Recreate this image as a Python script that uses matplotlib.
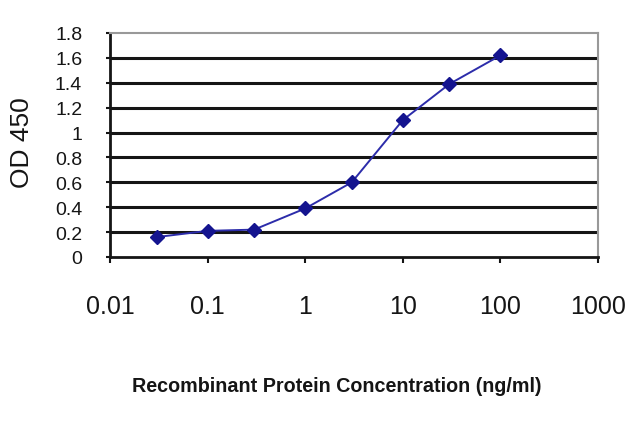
import matplotlib
matplotlib.use("Agg")
import matplotlib.pyplot as plt
from matplotlib.ticker import FixedLocator, FixedFormatter

conc = [0.03, 0.1, 0.3, 1, 3, 10, 30, 100]
od = [0.16, 0.21, 0.22, 0.39, 0.60, 1.10, 1.39, 1.62]
xticks = [0.01, 0.1, 1, 10, 100, 1000]
xtick_labels = ["0.01", "0.1", "1", "10", "100", "1000"]
yticks = [0, 0.2, 0.4, 0.6, 0.8, 1, 1.2, 1.4, 1.6, 1.8]
ytick_labels = ["0", "0.2", "0.4", "0.6", "0.8", "1", "1.2", "1.4", "1.6", "1.8"]

plt.rcParams['font.family'] = ['Liberation Sans', 'DejaVu Sans']
fig = plt.figure(figsize=(6.4, 4.27), dpi=100)
ax = fig.add_axes([110/640, 1 - 258/427, (598-110)/640, (258-34)/427])

ax.set_xscale('log')
ax.set_xlim(0.01, 1000)
ax.set_ylim(0, 1.8)
for y in yticks[1:-1]:
    ax.axhline(y, color='#151515', lw=2.2, zorder=1)
ax.plot(conc, od, color='#2c2caa', lw=1.4, marker='D', ms=7,
        mfc='#14148f', mec='#14148f', zorder=3)

ax.xaxis.set_major_locator(FixedLocator(xticks))
ax.xaxis.set_major_formatter(FixedFormatter(xtick_labels))
ax.xaxis.set_minor_locator(FixedLocator([]))
ax.set_yticks(yticks)
ax.set_yticklabels(ytick_labels)
ax.tick_params(axis='x', direction='out', length=4, width=1.5, pad=23, labelsize=18, colors='#151515')
ax.tick_params(axis='y', direction='out', length=3, width=1.5, pad=17, labelsize=14, colors='#151515')

ax.spines['left'].set_color('#151515')
ax.spines['left'].set_linewidth(2)
ax.spines['bottom'].set_color('#151515')
ax.spines['bottom'].set_linewidth(2)
ax.spines['top'].set_color('#999999')
ax.spines['top'].set_linewidth(1.5)
ax.spines['right'].set_color('#999999')
ax.spines['right'].set_linewidth(1.5)

fig.text(22/640, 1 - 143/427, "OD 450", rotation=90, ha='center', va='center', fontsize=19, color='#151515')
fig.text(337/640, 1 - 387/427, "Recombinant Protein Concentration (ng/ml)", ha='center', va='center',
         fontsize=14.2, fontweight='bold', color='#151515')

fig.savefig("out.png", dpi=100)
